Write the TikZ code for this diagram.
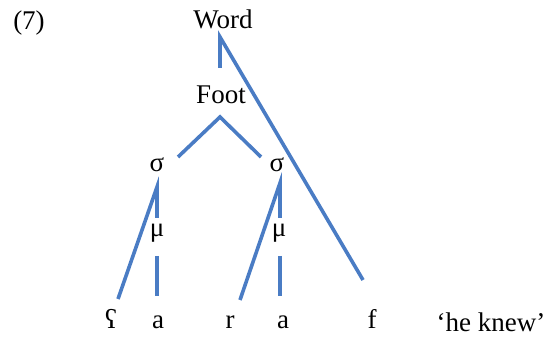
\documentclass[tikz,border=0pt]{standalone}
\usepackage{fontspec}
\setmainfont{Liberation Serif}
\newfontfamily\timesfont{Liberation Serif}
\definecolor{branch}{HTML}{4A7CC4}
\tikzset{
  lbl/.style={anchor=base, inner sep=0pt, font=\timesfont\fontsize{27}{30}\selectfont},
  br/.style={draw=branch, line width=3.6pt}
}
\begin{document}
\begin{tikzpicture}[x=1pt,y=-1pt]
\useasboundingbox (0,0) rectangle (547,342);
\node[lbl] (ex) at (29,30) {(7)};
\node[lbl] (word) at (223,29) {Word};
\node[lbl] (foot) at (221,104) {Foot};
\node[lbl] (s1) at (157,172) {σ};
\node[lbl] (s2) at (277,172) {σ};
\node[lbl] (m1) at (157,237) {μ};
\node[lbl] (m2) at (279,237) {μ};
\node[lbl] (c1) at (111,328) {ʕ};
\node[lbl] (v1) at (158,328) {a};
\node[lbl] (c2) at (230,328) {r};
\node[lbl] (v2) at (283,328) {a};
\node[lbl] (c3) at (372,328) {f};
\node[lbl] (gl) at (491,331) {‘he knew’};
% coordinates
\coordinate (wtop) at (220,37);
\coordinate (wbot) at (220,68);
\coordinate (fend) at (363,280);
\coordinate (ftop) at (220,117);
\coordinate (fl) at (178,157);
\coordinate (fr) at (261,157);
\coordinate (s1top) at (157,187);
\coordinate (s1bot) at (157,218);
\coordinate (c1end) at (118,299);
\coordinate (m1top) at (157,256);
\coordinate (m1bot) at (157,296);
\coordinate (s2top) at (280,183);
\coordinate (s2bot) at (280,218);
\coordinate (c2end) at (240,300);
\coordinate (m2top) at (280,256);
\coordinate (m2bot) at (280,296);
\draw[br, line join=miter] (wbot) -- (wtop) -- (fend);
\draw[br, line join=miter] (fl) -- (ftop) -- (fr);
\draw[br, line join=miter] (s1bot) -- (s1top) -- (c1end);
\draw[br] (m1top) -- (m1bot);
\draw[br, line join=miter] (s2bot) -- (s2top) -- (c2end);
\draw[br] (m2top) -- (m2bot);
\end{tikzpicture}
\end{document}
